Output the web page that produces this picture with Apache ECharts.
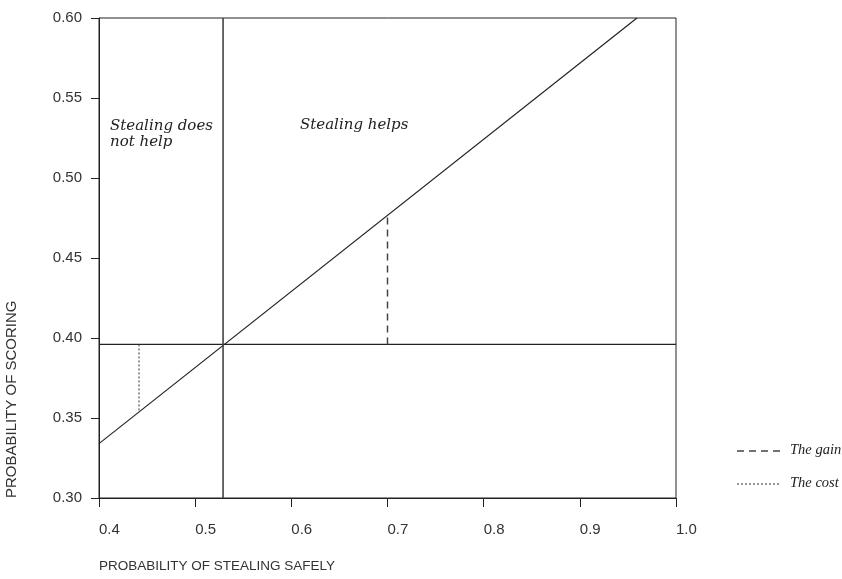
<!DOCTYPE html>
<html>
<head>
<meta charset="utf-8">
<script src="https://cdn.jsdelivr.net/npm/echarts@6/dist/echarts.min.js"></script>
<style>html,body{margin:0;padding:0;background:#fff}#c{width:842px;height:579px}</style>
</head>
<body>
<div id="c"></div>
<script>
// Tick labels
const xTickLabels = ['0.4', '0.5', '0.6', '0.7', '0.8', '0.9', '1.0'];
const yTickLabels = ['0.30', '0.35', '0.40', '0.45', '0.50', '0.55', '0.60'];

// Diagonal line (probability of scoring vs. probability of stealing safely)
const diagonalX = [0.4, 0.9594];
const diagonalY = [0.334, 0.60];

// Break-even: scoring probability without stealing
const baselineX = [0.4, 1.0];
const baselineY = [0.396, 0.396];

// Break-even stealing probability
const breakEvenX = [0.529, 0.529];
const breakEvenY = [0.30, 0.60];

// The gain (dashed)
const gainX = [0.70, 0.70];
const gainY = [0.396, 0.4767];

// The cost (dotted)
const costX = [0.4416, 0.4416];
const costY = [0.396, 0.3538];

const legendNames = ['The gain', 'The cost'];

const pairs = (xs, ys) => xs.map((x, i) => [x, ys[i]]);

const chart = echarts.init(document.getElementById('c'), null, {renderer: 'canvas'});
const tickFont = {fontFamily: 'Liberation Sans', fontSize: 15, color: '#333'};
const italic = {fontFamily: 'DejaVu Serif', fontStyle: 'italic', fontSize: 15, fill: '#222'};
const legendFont = {fontFamily: 'Liberation Serif', fontStyle: 'italic', fontSize: 14.5, fill: '#222'};

chart.setOption({
  animation: false,
  backgroundColor: '#fff',
  grid: {left: 99, top: 18, right: 166, bottom: 81, show: true, borderColor: '#222', borderWidth: 1},
  xAxis: {
    type: 'value', min: 0.4, max: 1.0, interval: 0.1,
    axisLine: {show: true, onZero: false, lineStyle: {color: '#222', width: 1}},
    axisTick: {show: true, length: 9, lineStyle: {color: '#222'}},
    splitLine: {show: false},
    axisLabel: Object.assign({margin: 24, align: 'left', formatter: v => xTickLabels[Math.round((v - 0.4) * 10)]}, tickFont)
  },
  yAxis: {
    type: 'value', min: 0.30, max: 0.60, interval: 0.05,
    axisLine: {show: true, onZero: false, lineStyle: {color: '#222', width: 1}},
    axisTick: {show: true, length: 8, lineStyle: {color: '#222'}},
    splitLine: {show: false},
    axisLabel: Object.assign({margin: 17, formatter: v => yTickLabels[Math.round((v - 0.3) * 20)]}, tickFont)
  },
  series: [
    {type: 'line', name: 'diagonal', data: pairs(diagonalX, diagonalY), symbol: 'none', silent: true,
     lineStyle: {color: '#222', width: 1.2}},
    {type: 'line', name: 'baseline', data: pairs(baselineX, baselineY), symbol: 'none', silent: true,
     lineStyle: {color: '#222', width: 1.2}},
    {type: 'line', name: 'breakeven', data: pairs(breakEvenX, breakEvenY), symbol: 'none', silent: true,
     lineStyle: {color: '#444', width: 1.6}},
    {type: 'line', name: legendNames[0], data: pairs(gainX, gainY), symbol: 'none', silent: true,
     lineStyle: {color: '#444', width: 1.5, type: [7, 5]}},
    {type: 'line', name: legendNames[1], data: pairs(costX, costY), symbol: 'none', silent: true,
     lineStyle: {color: '#333', width: 1, type: [2, 2]}}
  ],
  graphic: [
    {type: 'text', left: 110, top: 118, style: Object.assign({text: 'Stealing does\nnot help', lineHeight: 16}, italic)},
    {type: 'text', left: 300, top: 118, style: Object.assign({text: 'Stealing helps'}, italic)},
    {type: 'text', left: 99, top: 559, style: {text: 'PROBABILITY OF STEALING SAFELY', fontFamily: 'Liberation Sans', fontSize: 13.5, fill: '#333'}},
    {type: 'text', x: 4, y: 498, rotation: Math.PI / 2, style: {text: 'PROBABILITY OF SCORING', fontFamily: 'Liberation Sans', fontSize: 15, fill: '#333', textVerticalAlign: 'top'}},
    // legend
    {type: 'line', shape: {x1: 737, y1: 451, x2: 781, y2: 451}, style: {stroke: '#444', lineWidth: 1.5, lineDash: [7, 5]}},
    {type: 'text', left: 790, top: 443, style: Object.assign({text: legendNames[0]}, legendFont)},
    {type: 'line', shape: {x1: 737, y1: 484, x2: 781, y2: 484}, style: {stroke: '#333', lineWidth: 1, lineDash: [2, 2]}},
    {type: 'text', left: 790, top: 476, style: Object.assign({text: legendNames[1]}, legendFont)}
  ]
});
</script>
</body>
</html>
